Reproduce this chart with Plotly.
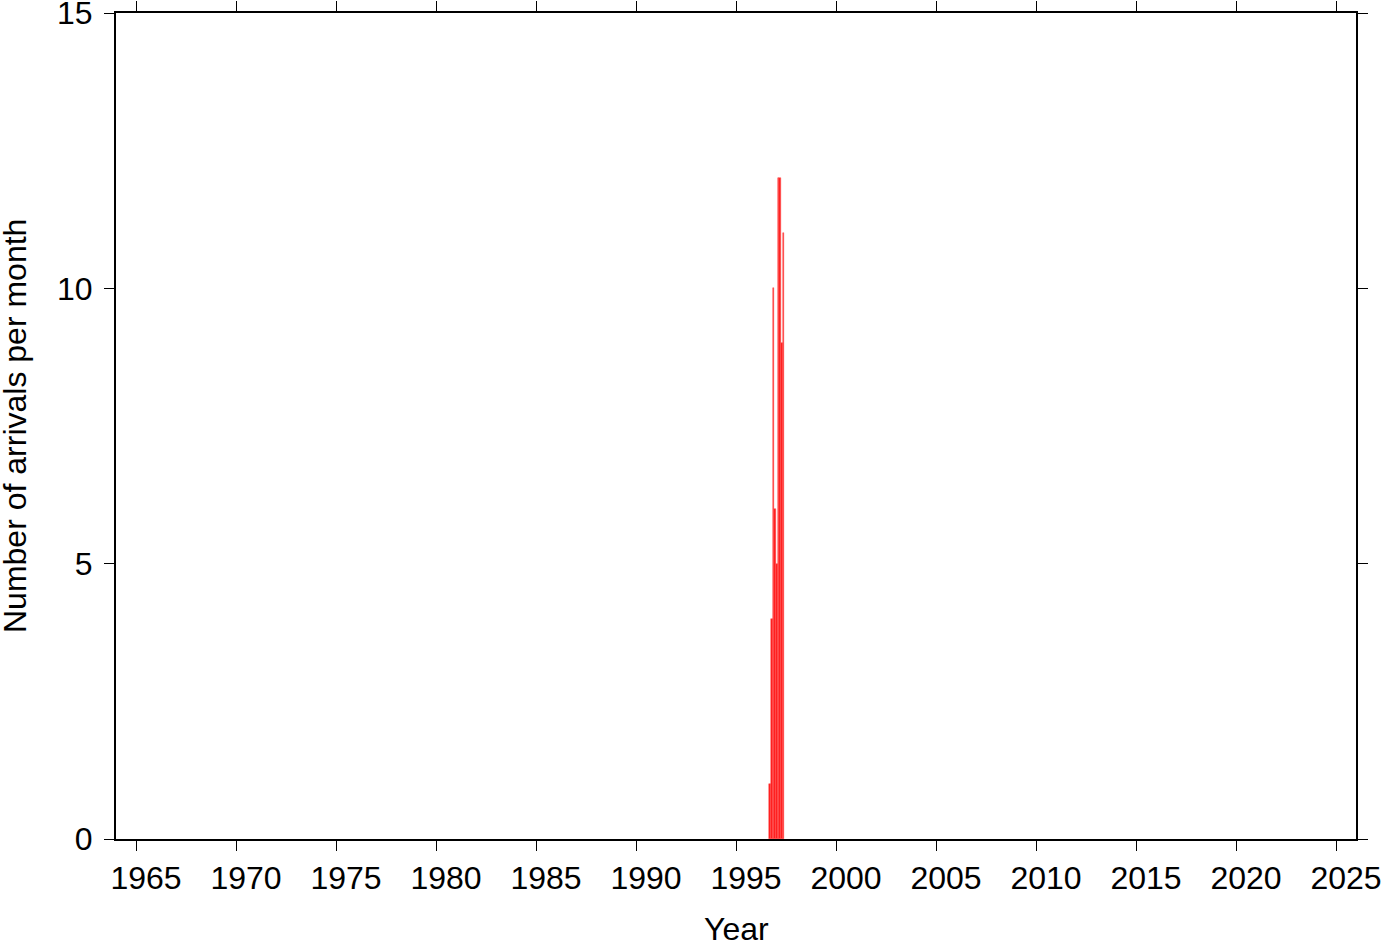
import plotly.graph_objects as go

# Monthly arrivals (decimal year of month start, count)
month_start = [1996 + 8/12, 1996 + 9/12, 1996 + 10/12, 1996 + 11/12,
               1997 + 0/12, 1997 + 1/12, 1997 + 2/12, 1997 + 3/12, 1997 + 4/12]
counts = [1, 4, 10, 6, 5, 12, 12, 9, 11]
x_ticks = [1965, 1970, 1975, 1980, 1985, 1990, 1995, 2000, 2005, 2010, 2015, 2020, 2025]
y_ticks = [0, 5, 10, 15]

centers = [m + 1/24 for m in month_start]

fig = go.Figure(go.Bar(
    x=centers, y=counts, width=[1/12] * len(counts),
    marker=dict(color="#ff1a1a", line=dict(color="#ff5050", width=0.5)),
))

font = dict(family="Liberation Sans, Arial, Helvetica, sans-serif", size=32, color="black")
fig.update_layout(
    width=1382, height=942,
    margin=dict(l=116, r=26, t=13, b=103),
    plot_bgcolor="white", paper_bgcolor="white",
    showlegend=False, bargap=0,
    font=font,
)
fig.update_xaxes(
    range=[1964, 2026], tickvals=x_ticks, ticktext=[str(t) for t in x_ticks],
    ticks="outside", ticklen=10, tickwidth=1, tickcolor="black",
    showline=True, linewidth=2, linecolor="black", mirror="allticks",
    showgrid=False, zeroline=False, automargin=False, ticklabeloverflow="allow",
    ticklabelshift=10,
)
fig.update_yaxes(
    range=[0, 15], tickvals=y_ticks,
    ticks="outside", ticklen=10, tickwidth=1, tickcolor="black",
    showline=True, linewidth=2, linecolor="black", mirror="allticks",
    showgrid=False, zeroline=False, automargin=False, ticklabeloverflow="allow",
    ticklabelstandoff=5,
)
fig.add_annotation(text="Year", xref="paper", yref="paper", x=0.5, y=0,
                   yshift=-90, xanchor="center", yanchor="middle",
                   showarrow=False, font=dict(size=32))
fig.add_annotation(text="Number of arrivals per month", xref="paper", yref="paper",
                   x=0, y=0.5, xshift=-101, textangle=-90,
                   xanchor="center", yanchor="middle",
                   showarrow=False, font=dict(size=32))
fig.write_html("out.html", config={"displayModeBar": False},
               post_script="document.body.style.margin='0';document.body.style.padding='0';")
